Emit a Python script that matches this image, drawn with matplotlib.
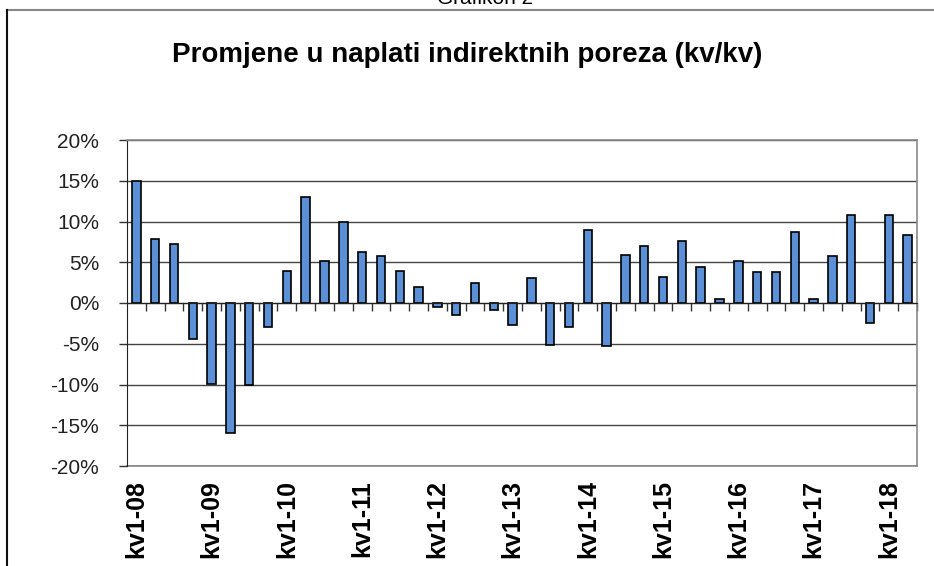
import matplotlib
matplotlib.use("Agg")
import matplotlib.pyplot as plt
from matplotlib.lines import Line2D
from matplotlib.ticker import FuncFormatter

plt.rcParams['font.family'] = ['Liberation Sans', 'DejaVu Sans']

# quarterly change in indirect tax collection, kv1-08 .. kv2-18 (%)
values = [15.0, 7.9, 7.3, -4.4, -9.9, -15.9, -10.0, -3.0,
          3.9, 13.0, 5.1, 10.0, 6.3, 5.8, 3.9, 2.0,
          -0.5, -1.5, 2.5, -0.8, -2.7, 3.1, -5.2, -3.0,
          8.9, -5.3, 5.9, 7.0, 3.2, 7.6, 4.4, 0.5,
          5.1, 3.8, 3.8, 8.7, 0.5, 5.8, 10.8, -2.5,
          10.8, 8.4]
year_labels = ['kv1-08', 'kv1-09', 'kv1-10', 'kv1-11', 'kv1-12', 'kv1-13',
               'kv1-14', 'kv1-15', 'kv1-16', 'kv1-17', 'kv1-18']
yticks = [-20, -15, -10, -5, 0, 5, 10, 15, 20]

x = list(range(len(values)))

fig = plt.figure(figsize=(9.34, 5.66), dpi=100)
ax = fig.add_axes([127/934, 1-466/566, 790/934, 326/566])

ax.bar(x, values, width=0.45, color='#5b8fd6', edgecolor='black', linewidth=1.2, zorder=3)

ax.set_xlim(-0.5, len(values) - 0.5)
ax.set_ylim(-20, 20)
ax.set_yticks(yticks)
ax.yaxis.set_major_formatter(FuncFormatter(lambda v, p: '%d%%' % v))
ax.tick_params(axis='y', direction='out', length=6, width=1, color='#333333',
               labelsize=15, labelcolor='#222222', pad=14)
ax.grid(axis='y', color='#444444', linewidth=1, zorder=0)

for s in ['top', 'right']:
    ax.spines[s].set_color('#8a8a8a')
    ax.spines[s].set_linewidth(1.2)
ax.spines['left'].set_color('#222222')
ax.spines['bottom'].set_position(('data', 0))
ax.spines['bottom'].set_color('#222222')
ax.spines['bottom'].set_zorder(4)

# small ticks on the zero line between quarters
ax.set_xticks([i + 0.5 for i in x])
ax.tick_params(axis='x', direction='out', length=6, width=1, color='#333333', labelbottom=False)

# year labels at the bottom of the plot area
sec = ax.secondary_xaxis(0.0)
sec.set_xticks([x[i] for i in range(0, len(values), 4)])
sec.set_xticklabels(year_labels, rotation=90, fontsize=18, fontweight='bold')
sec.tick_params(length=0, pad=10)
sec.spines['bottom'].set_color('#8a8a8a')
sec.spines['bottom'].set_linewidth(1.2)

ax.set_title('Promjene u naplati indirektnih poreza (kv/kv)', fontsize=20,
             fontweight='bold', pad=56, x=0.43)

# outer frame of the chart and the caption above it
fig.add_artist(Line2D([7/934, 1], [1-10/566, 1-10/566], color='#888888', lw=1.5))
fig.add_artist(Line2D([7/934, 7/934], [0, 1-10/566], color='#111111', lw=1.5))
fig.text(485/934, 1-8/566, 'Grafikon 2', ha='center', va='bottom', fontsize=15)

fig.savefig('out.png', dpi=100)
